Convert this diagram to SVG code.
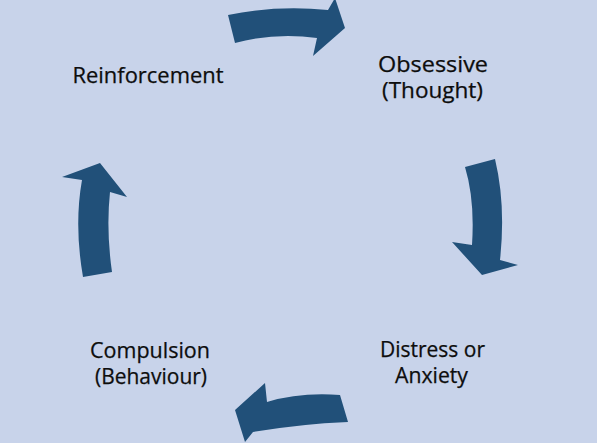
<svg xmlns="http://www.w3.org/2000/svg" width="597" height="443" viewBox="0 0 597 443">
<style>
.bg{fill:#C8D3EA}
.arr{fill:#215079}
.lbl{font-family:"Open Sans","Liberation Sans",Arial,sans-serif;font-size:21px;fill:#0D0D0D;stroke:#0D0D0D;stroke-width:0.25;text-anchor:middle}
</style>
<rect class="bg" x="0" y="0" width="597" height="443"/>
<g id="connectors">
<path class="arr" d="M228,15 Q276,5 328,10 L335,-2 L345,28 L313,56 L317,38 Q276,32 235,43 Z"/>
<path class="arr" d="M465,167 L495,159 Q506,205 500,260 L518,265 L482,275 L452,242 L472,245 Q475,200 465,167 Z"/>
<path class="arr" d="M340,395 Q300,392 267,402 L265,383 L235,410 L245,442 L253,432 Q300,424 348,422 Z"/>
<path class="arr" d="M100,163 L127,197 L110,192 Q106,230 112,272 L83,277 Q74,225 82,180 L62,177 Z"/>
</g>
<g id="node-reinforcement">
<text class="lbl" x="148" y="83" textLength="151" lengthAdjust="spacingAndGlyphs">Reinforcement</text>
</g>
<g id="node-obsessive">
<text class="lbl" x="433" y="72" textLength="110" lengthAdjust="spacingAndGlyphs">Obsessive</text>
<text class="lbl" x="432.5" y="98" textLength="101" lengthAdjust="spacingAndGlyphs">(Thought)</text>
</g>
<g id="node-distress">
<text class="lbl" x="432.5" y="357" textLength="105" lengthAdjust="spacingAndGlyphs">Distress or</text>
<text class="lbl" x="431.5" y="383" textLength="73" lengthAdjust="spacingAndGlyphs">Anxiety</text>
</g>
<g id="node-compulsion">
<text class="lbl" x="150" y="358" textLength="120" lengthAdjust="spacingAndGlyphs">Compulsion</text>
<text class="lbl" x="151" y="384" textLength="112" lengthAdjust="spacingAndGlyphs">(Behaviour)</text>
</g>
</svg>
